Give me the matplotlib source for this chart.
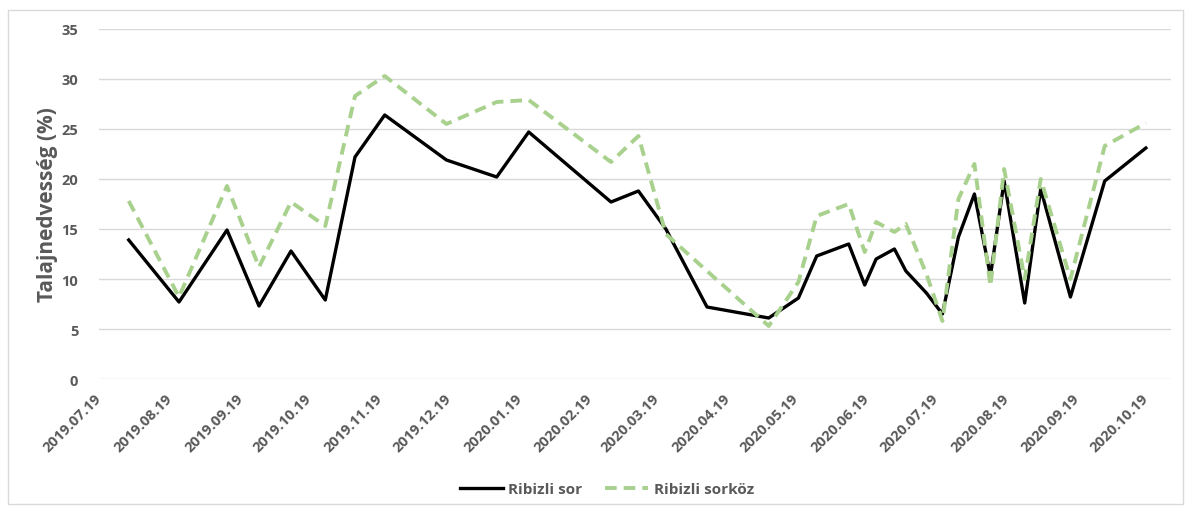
import matplotlib
matplotlib.use("Agg")
import matplotlib.pyplot as plt
from matplotlib.patches import Rectangle
import pandas as pd

plt.rcParams['font.family'] = ['Open Sans', 'DejaVu Sans']

# Measurement dates
dates = pd.to_datetime([
    "2019-08-01", "2019-08-23", "2019-09-13", "2019-09-27", "2019-10-11",
    "2019-10-26", "2019-11-08", "2019-11-21", "2019-12-18", "2020-01-09",
    "2020-01-23", "2020-02-28", "2020-03-11", "2020-03-23", "2020-04-10",
    "2020-05-07", "2020-05-20", "2020-05-28", "2020-06-11", "2020-06-18",
    "2020-06-23", "2020-07-01", "2020-07-06", "2020-07-15", "2020-07-22",
    "2020-07-29", "2020-08-05", "2020-08-12", "2020-08-18", "2020-08-27",
    "2020-09-03", "2020-09-16", "2020-10-01", "2020-10-19",
])

# Soil moisture (%) in the row
sor = [
    13.9, 7.7, 14.9, 7.3, 12.8,
    7.9, 22.2, 26.4, 21.9, 20.2,
    24.7, 17.7, 18.8, 15.0, 7.2,
    6.1, 8.1, 12.3, 13.5, 9.4,
    12.0, 13.0, 10.8, 8.6, 6.5,
    14.2, 18.5, 10.3, 19.8, 7.6,
    19.0, 8.2, 19.8, 23.1,
]

# Soil moisture (%) between the rows
sorkoz = [
    17.8, 8.2, 19.3, 11.2, 17.7,
    15.3, 28.3, 30.3, 25.5, 27.7,
    27.9, 21.7, 24.3, 14.5, 10.8,
    5.3, 9.7, 16.3, 17.5, 12.7,
    15.7, 14.7, 15.5, 10.5, 5.8,
    18.0, 21.5, 9.3, 21.0, 10.0,
    20.0, 10.0, 23.3, 25.6,
]

tick_dates = pd.date_range("2019-07-19", "2020-10-19", freq=pd.DateOffset(months=1))
tick_labels = [d.strftime("%Y.%m.%d") for d in tick_dates]

W, H = 1191, 510
fig = plt.figure(figsize=(W / 100, H / 100), dpi=100)
fig.patch.set_facecolor("white")
fig.patches.append(Rectangle((8 / W, 5 / H), (1183 - 8) / W, (499 - 5) / H,
                             transform=fig.transFigure, fill=False,
                             edgecolor="#D9D9D9", linewidth=1))

ax = fig.add_axes([99 / W, 1 - 380 / H, (1171 - 99) / W, 350 / H])

gray = "#595959"
ax.plot(dates, sor, color="black", linewidth=2.4, label="Ribizli sor", zorder=3)
ax.plot(dates, sorkoz, color="#A9D18E", linewidth=2.8, linestyle=(0, (3.0, 1.8)),
        label="Ribizli sorköz", zorder=4)

ax.set_ylim(0, 35)
ax.set_yticks(range(0, 36, 5))
ax.set_xlim(pd.Timestamp("2019-07-19"), pd.Timestamp("2019-07-19") + pd.Timedelta(days=469))
ax.set_xticks(tick_dates)
ax.set_xticklabels(tick_labels, rotation=45, ha="right", va="center",
                   rotation_mode="anchor")

ax.grid(axis="y", color="#D9D9D9", linewidth=1)
ax.set_axisbelow(True)
for s in ax.spines.values():
    s.set_visible(False)
ax.tick_params(axis="both", length=0, colors=gray, labelsize=10.5)
ax.tick_params(axis="y", pad=15)
ax.tick_params(axis="x", pad=12)
for lbl in ax.get_xticklabels() + ax.get_yticklabels():
    lbl.set_fontweight("bold")

ax.set_ylabel("Talajnedvesség (%)", fontsize=15, color=gray, fontweight="bold")
ax.yaxis.set_label_coords((58 - 99) / 1072, 0.5)

leg = fig.legend(loc="center", bbox_to_anchor=(607 / W, 1 - 490 / H), ncol=2,
                 frameon=False, fontsize=11, labelcolor=gray, handlelength=2.8,
                 columnspacing=1.5, handletextpad=0.35)
for t in leg.get_texts():
    t.set_fontweight("bold")

fig.savefig("out.png", dpi=100)
